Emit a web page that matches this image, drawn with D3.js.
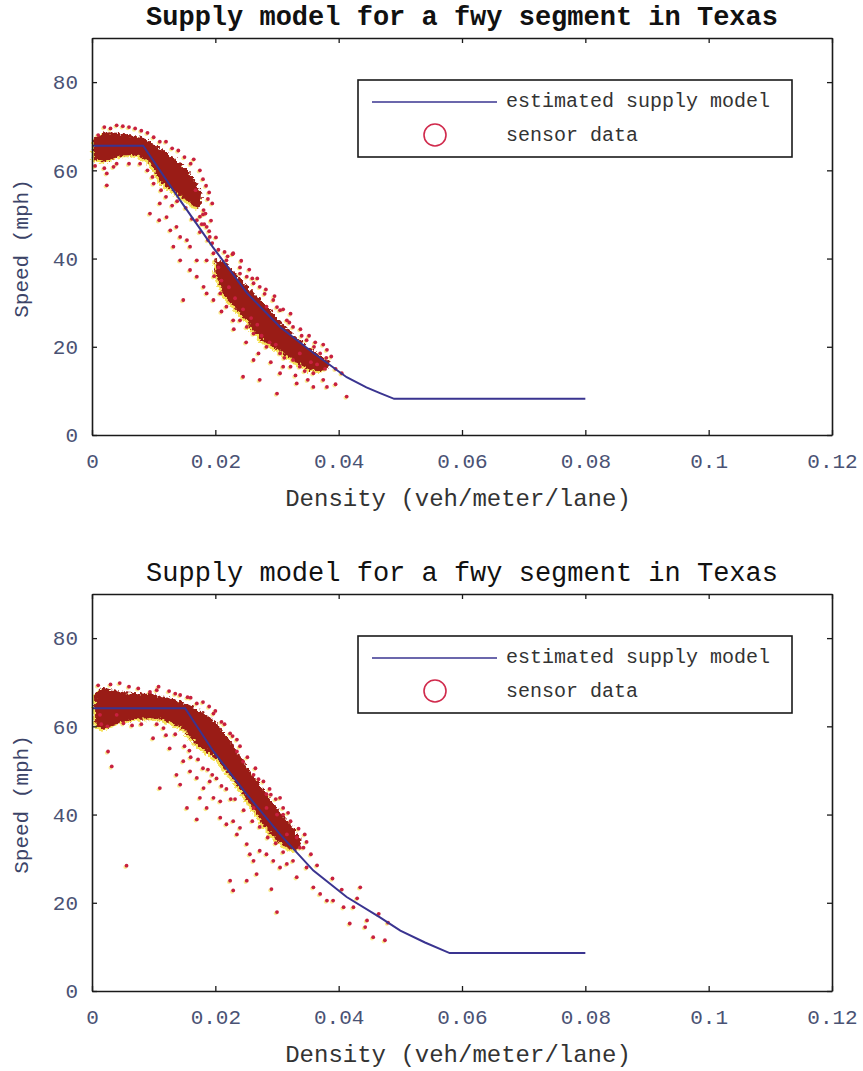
<!DOCTYPE html>
<html>
<head>
<meta charset="utf-8">
<script src="https://cdn.jsdelivr.net/npm/d3@7"></script>
<style>
  body { margin: 0; background: #fff; }
  svg { display: block; }
  .mono { font-family: "Liberation Mono", "DejaVu Sans Mono", monospace; }
</style>
</head>
<body>
<svg id="chart" width="863" height="1071"></svg>
<script>
// ---- data ---------------------------------------------------------------------

var titleText = 'Supply model for a fwy segment in Texas';
var densityTicks = [0, 0.02, 0.04, 0.06, 0.08, 0.1, 0.12];
var densityTickLabels = ['0', '0.02', '0.04', '0.06', '0.08', '0.1', '0.12'];
var speedTicks = [0, 20, 40, 60, 80];
var legendLabels = ['estimated supply model', 'sensor data'];

// panel 1 : estimated supply model (piecewise curve)
var model1Density = [0, 0.0083, 0.0143, 0.0196, 0.0251, 0.0305, 0.0359, 0.0413, 0.0445, 0.0467, 0.049, 0.08];
var model1Speed   = [65.6, 65.6, 53.2, 42.6, 32.2, 24.5, 18.6, 13.1, 10.8, 9.5, 8.2, 8.2];

// panel 1 : dense sensor cloud, upper and lower edges
var core1aDensity = [0.0003, 0.002, 0.004, 0.006, 0.008, 0.0095, 0.011, 0.0125, 0.014, 0.0155, 0.017, 0.0178];
var core1aHigh    = [67, 68.5, 68.5, 68, 67.5, 66.5, 65, 63.5, 62, 60, 57, 54.5];
var core1aLow     = [62.5, 62, 63, 63.5, 63, 61.5, 57.5, 56, 54.5, 53, 51.5, 52];
var core1bDensity = [0.020, 0.0215, 0.023, 0.025, 0.0275, 0.030, 0.0325, 0.035, 0.037, 0.0385];
var core1bHigh    = [40, 39, 37, 34, 30.5, 26.5, 23, 20, 18, 16.5];
var core1bLow     = [37, 31.5, 29, 26, 21.5, 19.5, 17, 15, 14.5, 15.5];

// panel 1 : scattered sensor points
var sensor1 = [
  [0.0024, 59.3], [0.0024, 56.6], [0.0094, 50.2], [0.011, 52.5], [0.0109, 48.7], [0.0121, 49.4],
  [0.0127, 46.4], [0.0137, 47.2], [0.0143, 44.9], [0.0132, 42.7], [0.0154, 44.2], [0.0159, 42.7],
  [0.0170, 48.7], [0.0181, 51], [0.0186, 47.2], [0.0191, 44.9], [0.0197, 41.2], [0.0143, 39.6],
  [0.0159, 37.4], [0.0170, 35.9], [0.0181, 33.6], [0.0148, 30.6], [0.0186, 32.1], [0.0197, 30.6],
  [0.0208, 32.1], [0.0218, 29.1], [0.0229, 26], [0.0218, 39.6], [0.0229, 41.2], [0.0245, 13.2],
  [0.0272, 12.5], [0.0300, 9.4], [0.0262, 17], [0.0305, 14], [0.0332, 11.7], [0.0359, 10.9],
  [0.0381, 10.9], [0.0413, 8.7], [0.0370, 18.5], [0.0381, 19.3], [0.0359, 14], [0.0337, 15.5],
  [0.0316, 26], [0.0326, 24.5], [0.0305, 28.3], [0.0283, 29.1], [0.0272, 33.6], [0.0240, 36.6],
  [0.0251, 35.9], [0.0262, 34.4], [0.0294, 30.6], [0.0348, 21.5], [0.0283, 20], [0.0262, 23],
  [0.0240, 26], [0.0251, 24.5], [0.0305, 18.5], [0.0326, 17], [0.0337, 18.5], [0.0186, 39.6],
  [0.0170, 39.6], [0.003, 69.5], [0.005, 70], [0.007, 69.5], [0.009, 68.5], [0.011, 66.5],
  [0.013, 65], [0.015, 63], [0.016, 61.5], [0.018, 58], [0.019, 55], [0.0195, 52.5], [0.018, 50],
  [0.0005, 61], [0.002, 60.5], [0.004, 61.5], [0.006, 61.5], [0.009, 60], [0.010, 57], [0.012, 54],
  [0.013, 52], [0.0205, 42], [0.022, 40.5], [0.024, 38], [0.026, 35.5], [0.028, 32], [0.030, 29],
  [0.032, 25.5], [0.034, 22.5], [0.036, 20], [0.038, 17.5], [0.0395, 15], [0.0405, 14],
  [0.021, 28], [0.023, 24], [0.025, 21], [0.027, 18.5], [0.029, 16.5], [0.031, 15.5], [0.033, 13.5],
  [0.035, 12.5], [0.0375, 12.5], [0.0395, 11.5],
  [0.001, 68], [0.002, 69.8], [0.004, 70.2], [0.006, 69.8], [0.008, 69], [0.010, 67.5], [0.012, 66.5],
  [0.014, 64.5], [0.0165, 62.5], [0.0175, 60], [0.0185, 56.5], [0.0188, 53.5], [0.0168, 55.5],
  [0.0152, 51.5], [0.0138, 53], [0.0112, 55.5], [0.0098, 58.5], [0.0078, 61.5], [0.0035, 60.8],
  [0.0162, 49], [0.0175, 46], [0.0205, 38], [0.0198, 36], [0.021, 35], [0.0222, 33.5], [0.0232, 31],
  [0.0245, 28.5], [0.0258, 26.5], [0.0268, 25], [0.0275, 22.5], [0.0288, 21], [0.0298, 20.5],
  [0.0312, 17.5], [0.0322, 15.5], [0.0345, 14.5], [0.0355, 16.5], [0.0365, 16], [0.0378, 15],
  [0.0388, 17.8], [0.0375, 20.5], [0.0362, 21], [0.0352, 22.5], [0.0338, 24], [0.0322, 27.5],
  [0.031, 28.5], [0.0296, 31.5], [0.0282, 33], [0.0268, 35.5], [0.0255, 37.5], [0.0242, 39.5],
  [0.0228, 41], [0.0215, 41.5],
  [0.0175, 49.5], [0.0182, 47.8], [0.019, 46.2], [0.0195, 43.5], [0.0188, 44.2], [0.0178, 47.8],
  [0.0184, 50.2], [0.0193, 48.6], [0.0201, 44.8]
];

// panel 2 : estimated supply model
var model2Density = [0, 0.0151, 0.0197, 0.0251, 0.0305, 0.0359, 0.0413, 0.0467, 0.050, 0.054, 0.058, 0.08];
var model2Speed   = [64.1, 64.1, 54.3, 44.6, 35.5, 27.3, 21.3, 16.7, 13.7, 11, 8.6, 8.6];

// panel 2 : dense sensor cloud edges
var core2Density = [0.0005, 0.0015, 0.005, 0.010, 0.0145, 0.017, 0.020, 0.0225, 0.0256, 0.0294, 0.0326, 0.0338];
var core2High    = [67.5, 68.6, 67.8, 67.2, 65.6, 64, 61, 56.5, 50, 42.5, 37, 34.5];
var core2Low     = [61, 59.5, 61, 61.8, 59.6, 55.8, 52.8, 48.5, 42.5, 35, 32, 32.5];

// panel 2 : scattered sensor points
var sensor2 = [
  [0.0026, 54.3], [0.0032, 50.9], [0.0056, 28.4], [0.0110, 46], [0.0051, 60.7], [0.0099, 57.3],
  [0.0154, 41.5], [0.0170, 38.9], [0.0159, 49.8], [0.0148, 52.1], [0.0170, 48.3], [0.0181, 46],
  [0.0191, 47.5], [0.0197, 43.8], [0.0208, 43], [0.0175, 43.8], [0.0218, 37.8], [0.0229, 38.5],
  [0.0240, 37], [0.0251, 33.3], [0.0256, 31], [0.0262, 29.5], [0.0272, 31.8], [0.0283, 31],
  [0.0294, 29.5], [0.0305, 28], [0.0316, 28.8], [0.0332, 25.8], [0.0348, 28], [0.0359, 23.5],
  [0.0370, 22], [0.0381, 20.5], [0.0391, 20.5], [0.0408, 19], [0.0424, 19], [0.0418, 15.3],
  [0.0443, 14.5], [0.0456, 12.2], [0.0446, 16], [0.0435, 23.5], [0.0224, 25], [0.0229, 22.8],
  [0.0251, 25], [0.0300, 17.9], [0.0291, 23.1], [0.0267, 26.5], [0.0326, 29.5], [0.0337, 32.5],
  [0.0316, 35.5], [0.0300, 40], [0.0283, 41.5], [0.0305, 43.8], [0.0262, 41.5], [0.0235, 35.5],
  [0.0208, 39.3], [0.0186, 41.5], [0.0143, 46.8], [0.0137, 49], [0.0126, 55], [0.0116, 59.6],
  [0.0040, 62.6], [0.0013, 62.6], [0.0108, 69], [0.0094, 67.8], [0.0143, 67.1], [0.0170, 65.2],
  [0.0197, 62.9], [0.0224, 58.4], [0.0235, 54.3], [0.0245, 52], [0.0262, 49], [0.0283, 44.6],
  [0.0318, 40.4], [0.0332, 34.8], [0.0343, 32.5], [0.003, 69.5], [0.006, 69], [0.0125, 68],
  [0.016, 66.5], [0.019, 64.5], [0.021, 61], [0.0235, 57], [0.027, 48], [0.029, 44.5], [0.031, 40],
  [0.0345, 35.5], [0.0355, 31], [0.0365, 28.5], [0.039, 25.5], [0.0405, 23], [0.043, 21],
  [0.0465, 17.5], [0.048, 15.5], [0.0475, 11.5], [0.0025, 60], [0.008, 60.5], [0.012, 58],
  [0.015, 55.5], [0.016, 53], [0.018, 50.5], [0.0195, 49], [0.021, 46.5], [0.0225, 43.5],
  [0.001, 69.3], [0.0045, 69.8], [0.0075, 68.6], [0.0105, 68.2], [0.0135, 67.4], [0.0155, 66.6],
  [0.018, 65.5], [0.020, 63.5], [0.0215, 60.5], [0.0228, 57.8], [0.024, 55.5], [0.0252, 53],
  [0.0265, 50.5], [0.0278, 47.5], [0.0288, 45.8], [0.0298, 43.5], [0.031, 41.5], [0.0322, 38.5],
  [0.0335, 36.8], [0.0348, 33.8], [0.0015, 60.5], [0.0065, 60.2], [0.0105, 60.5], [0.0135, 58.2],
  [0.0158, 54.5], [0.0172, 52.5], [0.0188, 50.2], [0.0202, 48.2], [0.0218, 45.8], [0.0232, 43.5],
  [0.0246, 41], [0.026, 38.5], [0.0272, 37.2], [0.0285, 34.8], [0.0298, 33.5], [0.031, 31.5]
];

// ---- drawing -------------------------------------------------------------------

var svg = d3.select('#chart');
var plot = { left: 92, right: 832, top: 38, bottom: 435 };
var xScale = d3.scaleLinear().domain([0, 0.12]).range([plot.left, plot.right]);
var yScale = d3.scaleLinear().domain([0, 90]).range([plot.bottom, plot.top]);

// ragged edge for the dense part of the cloud
var defs = svg.append('defs');
var rough = defs.append('filter').attr('id', 'rough')
    .attr('x', '-10%').attr('y', '-10%').attr('width', '120%').attr('height', '120%');
rough.append('feTurbulence')
    .attr('type', 'fractalNoise').attr('baseFrequency', 0.35).attr('numOctaves', 2).attr('seed', 4)
    .attr('result', 'noise');
rough.append('feDisplacementMap')
    .attr('in', 'SourceGraphic').attr('in2', 'noise').attr('scale', 7)
    .attr('xChannelSelector', 'R').attr('yChannelSelector', 'G');

function Zip(xs, ys) {
    return xs.map(function (v, i) { return { x: v, y: ys[i] }; });
}

function ZipBand(xs, hi, lo) {
    return xs.map(function (v, i) { return { x: v, hi: hi[i], lo: lo[i] }; });
}

function DrawPanel(offsetY, cfg) {
    var g = svg.append('g').attr('transform', 'translate(0,' + offsetY + ')');

    g.append('text')
        .attr('class', 'mono')
        .attr('x', (plot.left + plot.right) / 2)
        .attr('y', 18)
        .attr('text-anchor', 'middle')
        .attr('dominant-baseline', 'middle')
        .attr('font-size', 27)
        .attr('font-weight', cfg.boldTitle ? 'bold' : 'normal')
        .attr('fill', '#111')
        .text(titleText);

    // cloud of sensor points: dense part drawn as band, rest as dots
    var band = d3.area()
        .x(function (d) { return xScale(d.x); })
        .y0(function (d) { return yScale(d.lo); })
        .y1(function (d) { return yScale(d.hi); })
        .curve(d3.curveCatmullRom);

    var cloud = g.append('g');
    cfg.bands.forEach(function (b) {
        cloud.append('path').datum(b)
            .attr('d', band)
            .attr('transform', 'translate(-2,2)')
            .attr('fill', '#f3dc30')
            .attr('opacity', 0.8)
            .attr('filter', 'url(#rough)');
    });
    cloud.selectAll('circle.halo')
        .data(cfg.sensor)
        .join('circle')
        .attr('class', 'halo')
        .attr('cx', function (d) { return xScale(d[0]) - 1.2; })
        .attr('cy', function (d) { return yScale(d[1]) + 1.2; })
        .attr('r', 2)
        .attr('fill', '#f5e04a')
        .attr('opacity', 0.6);
    cfg.bands.forEach(function (b) {
        cloud.append('path').datum(b)
            .attr('d', band)
            .attr('fill', '#9a1c16')
            .attr('filter', 'url(#rough)');
    });
    cloud.selectAll('circle.dot')
        .data(cfg.sensor)
        .join('circle')
        .attr('class', 'dot')
        .attr('cx', function (d) { return xScale(d[0]); })
        .attr('cy', function (d) { return yScale(d[1]); })
        .attr('r', 1.9)
        .attr('fill', '#c8203f');

    // model line
    var line = d3.line()
        .x(function (d) { return xScale(d.x); })
        .y(function (d) { return yScale(d.y); });
    g.append('path').datum(cfg.model)
        .attr('d', line)
        .attr('fill', 'none')
        .attr('stroke', '#3a3490')
        .attr('stroke-width', 2);

    // axes, matlab style: ticks inside on all four sides
    var axB = g.append('g')
        .attr('transform', 'translate(0,' + plot.bottom + ')')
        .call(d3.axisBottom(xScale).tickValues(densityTicks).tickSizeInner(-5).tickSizeOuter(0).tickPadding(18)
            .tickFormat(function (d, i) { return densityTickLabels[i]; }));
    var axT = g.append('g')
        .attr('transform', 'translate(0,' + plot.top + ')')
        .call(d3.axisTop(xScale).tickValues(densityTicks).tickSizeInner(-5).tickSizeOuter(0).tickFormat(''));
    var axL = g.append('g')
        .attr('transform', 'translate(' + plot.left + ',0)')
        .call(d3.axisLeft(yScale).tickValues(speedTicks).tickSizeInner(-5).tickSizeOuter(0).tickPadding(14));
    var axR = g.append('g')
        .attr('transform', 'translate(' + plot.right + ',0)')
        .call(d3.axisRight(yScale).tickValues(speedTicks).tickSizeInner(-5).tickSizeOuter(0).tickFormat(''));

    [axB, axT, axL, axR].forEach(function (a) {
        a.select('.domain').attr('stroke', '#1a1a1a').attr('stroke-width', 1.6);
        a.selectAll('.tick line').attr('stroke', '#1a1a1a').attr('stroke-width', 1.3);
        a.selectAll('.tick text')
            .attr('class', 'mono')
            .attr('font-size', 21)
            .attr('fill', '#4a5274');
    });
    axB.selectAll('.tick text').attr('dy', '0.71em');

    // axis titles
    g.append('text')
        .attr('class', 'mono')
        .attr('x', (plot.left + plot.right) / 2 - 4)
        .attr('y', 500)
        .attr('text-anchor', 'middle')
        .attr('dominant-baseline', 'middle')
        .attr('font-size', 24)
        .attr('fill', '#333')
        .text('Density (veh/meter/lane)');

    g.append('text')
        .attr('class', 'mono')
        .attr('transform', 'translate(22,' + ((plot.top + plot.bottom) / 2 + 12) + ') rotate(-90)')
        .attr('text-anchor', 'middle')
        .attr('dominant-baseline', 'middle')
        .attr('font-size', 21)
        .attr('fill', '#3c4468')
        .text('Speed (mph)');

    // legend
    var lg = g.append('g').attr('transform', 'translate(358,80)');
    lg.append('rect')
        .attr('width', 434).attr('height', 77)
        .attr('fill', '#fff')
        .attr('stroke', '#1a1a1a')
        .attr('stroke-width', 1.6);
    lg.append('line')
        .attr('x1', 14).attr('x2', 139).attr('y1', 22).attr('y2', 22)
        .attr('stroke', '#3a3490').attr('stroke-width', 1.6);
    lg.append('circle')
        .attr('cx', 77).attr('cy', 55).attr('r', 11)
        .attr('fill', 'none')
        .attr('stroke', '#d02a4c').attr('stroke-width', 1.6);
    lg.selectAll('text.lab')
        .data(legendLabels)
        .join('text')
        .attr('class', 'mono lab')
        .attr('x', 148)
        .attr('y', function (d, i) { return i === 0 ? 22 : 56; })
        .attr('dominant-baseline', 'middle')
        .attr('font-size', 20)
        .attr('fill', '#333')
        .text(function (d) { return d; });
}

DrawPanel(0, {
    boldTitle: true,
    model: Zip(model1Density, model1Speed),
    bands: [ZipBand(core1aDensity, core1aHigh, core1aLow), ZipBand(core1bDensity, core1bHigh, core1bLow)],
    sensor: sensor1
});

DrawPanel(556, {
    boldTitle: false,
    model: Zip(model2Density, model2Speed),
    bands: [ZipBand(core2Density, core2High, core2Low)],
    sensor: sensor2
});
</script>
</body>
</html>
